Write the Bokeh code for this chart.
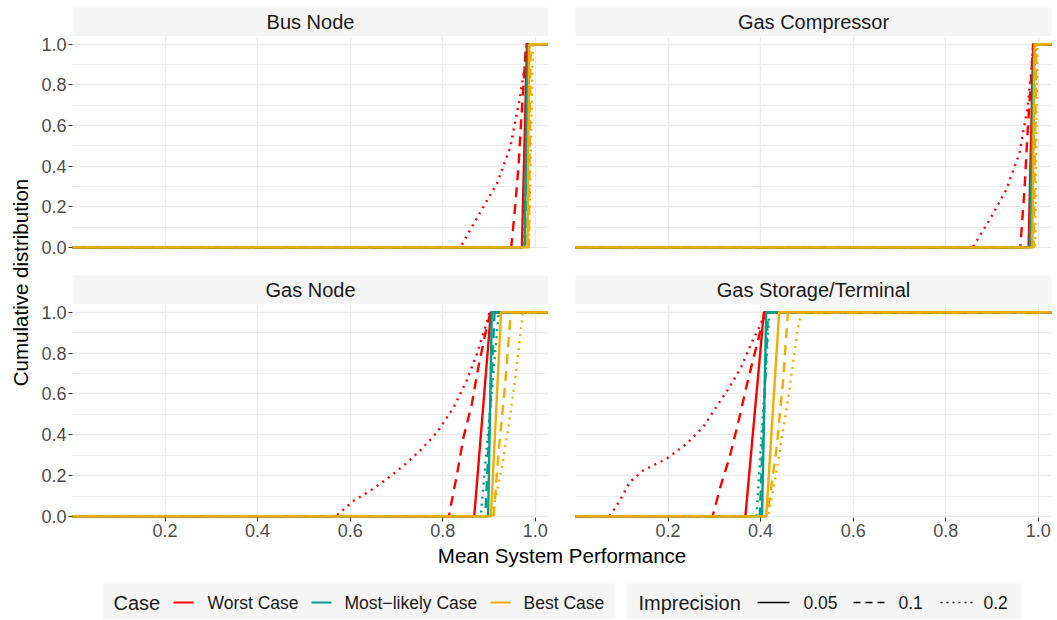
import math
from bokeh.plotting import figure
from bokeh.layouts import row, column
from bokeh.models import Range1d, FixedTicker, NumeralTickFormatter
from bokeh.core.properties import value
from bokeh.embed import file_html
from bokeh.resources import INLINE

# ---------------- data ----------------
panels = ["Bus Node", "Gas Compressor", "Gas Node", "Gas Storage/Terminal"]
cases = ["Worst Case", "Most\u2212likely Case", "Best Case"]
imprecisions = ["0.05", "0.1", "0.2"]
x_ticks = [0.2, 0.4, 0.6, 0.8, 1.0]
y_ticks = [0.0, 0.2, 0.4, 0.6, 0.8, 1.0]
y_minor_ticks = [0.1, 0.3, 0.5, 0.7, 0.9]

# each list holds one curve per imprecision (0.05, 0.1, 0.2)
bus_worst_x = [[0.971, 0.982],
               [0.948, 0.957, 0.964, 0.969, 0.975, 0.980],
               [0.838, 0.881, 0.917, 0.946, 0.967, 0.978, 0.981]]
bus_worst_y = [[0, 1],
               [0, 0.215, 0.41, 0.61, 0.82, 1],
               [0, 0.174, 0.314, 0.494, 0.74, 0.905, 1]]
bus_most_x = [[0.977, 0.984], [0.978, 0.986], [0.975, 0.987]]
bus_most_y = [[0, 1], [0, 1], [0, 1]]
bus_best_x = [[0.983, 0.987], [0.986, 0.990], [0.986, 0.995]]
bus_best_y = [[0, 1], [0, 1], [0, 1]]

comp_worst_x = [[0.979, 0.989],
                [0.961, 0.970, 0.977, 0.984, 0.989],
                [0.858, 0.894, 0.930, 0.959, 0.977, 0.984, 0.989]]
comp_worst_y = [[0, 1],
                [0, 0.28, 0.575, 0.82, 1],
                [0, 0.133, 0.281, 0.461, 0.69, 0.855, 1]]
comp_most_x = [[0.982, 0.991], [0.985, 0.992], [0.981, 0.994]]
comp_most_y = [[0, 1], [0, 1], [0, 1]]
comp_best_x = [[0.987, 0.992], [0.990, 0.996], [0.993, 0.998]]
comp_best_y = [[0, 1], [0, 1], [0, 1]]

node_worst_x = [[0.868, 0.904],
                [0.813, 0.831, 0.845, 0.863, 0.877, 0.892, 0.903],
                [0.568, 0.608, 0.644, 0.680, 0.716, 0.752, 0.788, 0.824, 0.852, 0.874, 0.892, 0.901]]
node_worst_y = [[0, 1],
                [0, 0.209, 0.389, 0.552, 0.732, 0.895, 1],
                [0, 0.078, 0.127, 0.185, 0.25, 0.324, 0.413, 0.536, 0.667, 0.797, 0.928, 1]]
node_most_x = [[0.898, 0.906], [0.892, 0.912], [0.882, 0.921]]
node_most_y = [[0, 1], [0, 1], [0, 1]]
node_best_x = [[0.904, 0.926],
               [0.910, 0.921, 0.935, 0.947],
               [0.904, 0.913, 0.928, 0.942, 0.957, 0.967, 0.973]]
node_best_y = [[0, 1],
               [0, 0.324, 0.65, 1],
               [0, 0.078, 0.242, 0.438, 0.683, 0.879, 1]]

stor_worst_x = [[0.367, 0.407],
                [0.296, 0.315, 0.333, 0.351, 0.369, 0.387, 0.405, 0.411],
                [0.073, 0.096, 0.117, 0.146, 0.197, 0.240, 0.276, 0.304, 0.333, 0.358, 0.383, 0.401, 0.409]]
stor_worst_y = [[0, 1],
                [0, 0.16, 0.29, 0.454, 0.634, 0.797, 0.96, 1],
                [0, 0.078, 0.168, 0.225, 0.283, 0.356, 0.438, 0.536, 0.634, 0.732, 0.863, 0.945, 1]]
stor_most_x = [[0.403, 0.412], [0.398, 0.416], [0.391, 0.419]]
stor_most_y = [[0, 1], [0, 1], [0, 1]]
stor_best_x = [[0.412, 0.440],
               [0.412, 0.419, 0.434, 0.448, 0.459],
               [0.416, 0.430, 0.445, 0.459, 0.471, 0.480, 0.488]]
stor_best_y = [[0, 1],
               [0, 0.078, 0.324, 0.65, 1],
               [0, 0.16, 0.373, 0.569, 0.765, 0.912, 1]]

panel_data = {
    "Bus Node": [(bus_worst_x, bus_worst_y), (bus_most_x, bus_most_y), (bus_best_x, bus_best_y)],
    "Gas Compressor": [(comp_worst_x, comp_worst_y), (comp_most_x, comp_most_y), (comp_best_x, comp_best_y)],
    "Gas Node": [(node_worst_x, node_worst_y), (node_most_x, node_most_y), (node_best_x, node_best_y)],
    "Gas Storage/Terminal": [(stor_worst_x, stor_worst_y), (stor_most_x, stor_most_y), (stor_best_x, stor_best_y)],
}

# ---------------- styles / layout ----------------
FONT = "Liberation Sans"
case_colors = ["#FF0000", "#00A08A", "#F2AD00"]
dash_styles = ["solid", "10 7", "2 5"]
key_dash_styles = ["solid", "7 5", "2 4"]
STRIP_FILL = "#F5F5F5"
GRID = "#EBEBEB"
X_RANGE = (0.0, 1.0285)
Y_RANGE = (-0.005, 1.038)
PAD_LO, PAD_HI = -1.0, 2.0   # like stat_ecdf padding to -Inf / Inf

FW = 476                 # frame width
FH_TOP, FH_BOT = 212, 213
SH = 29                  # strip height
TOP_PAD = 7
GAP = 27
XAX_H = 28
YT_W = 32
LB, RB_L = 40, 0         # borders for left column
LB_R, RB_R = 27, 3       # borders for right column


def make_panel(name, left, bottom):
    bl = LB if left else LB_R
    br = RB_L if left else RB_R
    fh = FH_BOT if bottom else FH_TOP
    bb = XAX_H if bottom else GAP
    p = figure(width=bl + FW + br, height=fh + bb,
               x_range=Range1d(*X_RANGE), y_range=Range1d(*Y_RANGE),
               toolbar_location=None, output_backend="svg", title=None,
               min_border_left=bl, min_border_right=br, min_border_top=0,
               min_border_bottom=bb,
               x_axis_location="below" if bottom else None,
               y_axis_location="left" if left else None)
    p.outline_line_color = None
    p.background_fill_color = "white"
    p.border_fill_color = "white"
    p.xgrid.ticker = FixedTicker(ticks=x_ticks)
    p.ygrid.ticker = FixedTicker(ticks=y_ticks, minor_ticks=y_minor_ticks)
    p.grid.grid_line_color = GRID
    p.grid.grid_line_width = 1.4
    p.ygrid.minor_grid_line_color = GRID
    p.ygrid.minor_grid_line_width = 0.9
    if bottom:
        p.xaxis.ticker = FixedTicker(ticks=x_ticks)
        p.xaxis.formatter = NumeralTickFormatter(format="0.0")
    if left:
        p.yaxis.ticker = FixedTicker(ticks=y_ticks)
        p.yaxis.formatter = NumeralTickFormatter(format="0.0")
    if bottom or left:
        p.axis.axis_line_color = None
        p.axis.major_tick_line_color = "#333333"
        p.axis.major_tick_out = 4
        p.axis.major_tick_in = 0
        p.axis.minor_tick_line_color = None
        p.axis.major_label_text_font = FONT
        p.axis.major_label_text_font_size = "18px"
        p.axis.major_label_text_color = "#4D4D4D"
        p.axis.major_label_standoff = 2
    for ci, (cx, cy) in enumerate(panel_data[name]):
        for ii in range(len(imprecisions)):
            xs = [PAD_LO] + cx[ii] + [PAD_HI]
            ys = [0] + cy[ii] + [1]
            p.line(xs, ys, line_color=case_colors[ci], line_width=2.4,
                   line_dash=dash_styles[ii])
    return p


def make_strip(name, left, top):
    bl = LB if left else LB_R
    br = RB_L if left else RB_R
    bt = TOP_PAD if top else 0
    s = figure(width=bl + FW + br, height=SH + bt, x_range=Range1d(0, 1), y_range=Range1d(0, 1),
               toolbar_location=None, output_backend="svg", title=None,
               min_border_left=bl, min_border_right=br, min_border_top=bt, min_border_bottom=0,
               x_axis_location=None, y_axis_location=None)
    s.grid.visible = False
    s.outline_line_color = None
    s.background_fill_color = STRIP_FILL
    s.border_fill_color = "white"
    s.text(x=[0.5], y=[0.5], text=[name], text_align="center", text_baseline="middle",
           text_font=value(FONT), text_font_size="20px", text_color="#1A1A1A")
    return s


cols = []
for idx, name in enumerate(panels):
    left = idx % 2 == 0
    bottom = idx >= 2
    cols.append(column(make_strip(name, left, not bottom), make_panel(name, left, bottom)))

grid_block = column(row(cols[0], cols[1]), row(cols[2], cols[3]))
BLOCK_H = (TOP_PAD + SH + FH_TOP + GAP) + (SH + FH_BOT + XAX_H)

# y axis title
yt = figure(width=YT_W, height=BLOCK_H, x_range=Range1d(0, YT_W), y_range=Range1d(0, BLOCK_H),
            toolbar_location=None, output_backend="svg", title=None,
            min_border=0, x_axis_location=None, y_axis_location=None)
yt.grid.visible = False
yt.outline_line_color = None
yt.text(x=[20], y=[BLOCK_H - 282], text=["Cumulative distribution"], angle=math.pi / 2,
        text_align="center", text_baseline="middle", text_font=value(FONT),
        text_font_size="20.5px", text_color="black")

# bottom: x title + legends
TOTAL_W = YT_W + (LB + FW + RB_L) + (LB_R + FW + RB_R)
BH = 74
bf = figure(width=TOTAL_W, height=BH, x_range=Range1d(0, TOTAL_W), y_range=Range1d(0, BH),
            toolbar_location=None, output_backend="svg", title=None,
            min_border=0, x_axis_location=None, y_axis_location=None)
bf.grid.visible = False
bf.outline_line_color = None
plot_center = YT_W + LB + (FW + RB_L + LB_R + FW) / 2
bf.text(x=[plot_center], y=[BH - 10], text=["Mean System Performance"],
        text_align="center", text_baseline="middle", text_font=value(FONT),
        text_font_size="20.5px", text_color="black")

LEG_Y = 17
# legend boxes
bf.quad(left=[102, 626], right=[614, 1021], bottom=[0, 0], top=[36, 36],
        fill_color=STRIP_FILL, line_color=None)
bf.text(x=[113, 638], y=[LEG_Y, LEG_Y], text=["Case", "Imprecision"], text_align="left",
        text_baseline="middle", text_font=value(FONT), text_font_size="20px", text_color="#1A1A1A")
case_key_x0 = [173, 311, 490]
case_label_x = [207, 344, 523]
for ci, cname in enumerate(cases):
    bf.segment(x0=[case_key_x0[ci]], x1=[case_key_x0[ci] + 20], y0=[LEG_Y], y1=[LEG_Y],
               line_color=case_colors[ci], line_width=2)
    bf.text(x=[case_label_x[ci]], y=[LEG_Y], text=[cname], text_align="left",
            text_baseline="middle", text_font=value(FONT), text_font_size="17.5px",
            text_color="#1A1A1A")
imp_key_x0 = [757, 853, 940]
imp_label_x = [803, 898, 983]
for ii, iname in enumerate(imprecisions):
    bf.segment(x0=[imp_key_x0[ii]], x1=[imp_key_x0[ii] + 32], y0=[LEG_Y], y1=[LEG_Y],
               line_color="black", line_width=1.3, line_dash=key_dash_styles[ii])
    bf.text(x=[imp_label_x[ii]], y=[LEG_Y], text=[iname], text_align="left",
            text_baseline="middle", text_font=value(FONT), text_font_size="17.5px",
            text_color="#1A1A1A")

layout = column(row(yt, grid_block), bf)

open("out.html", "w").write(file_html(layout, INLINE))
